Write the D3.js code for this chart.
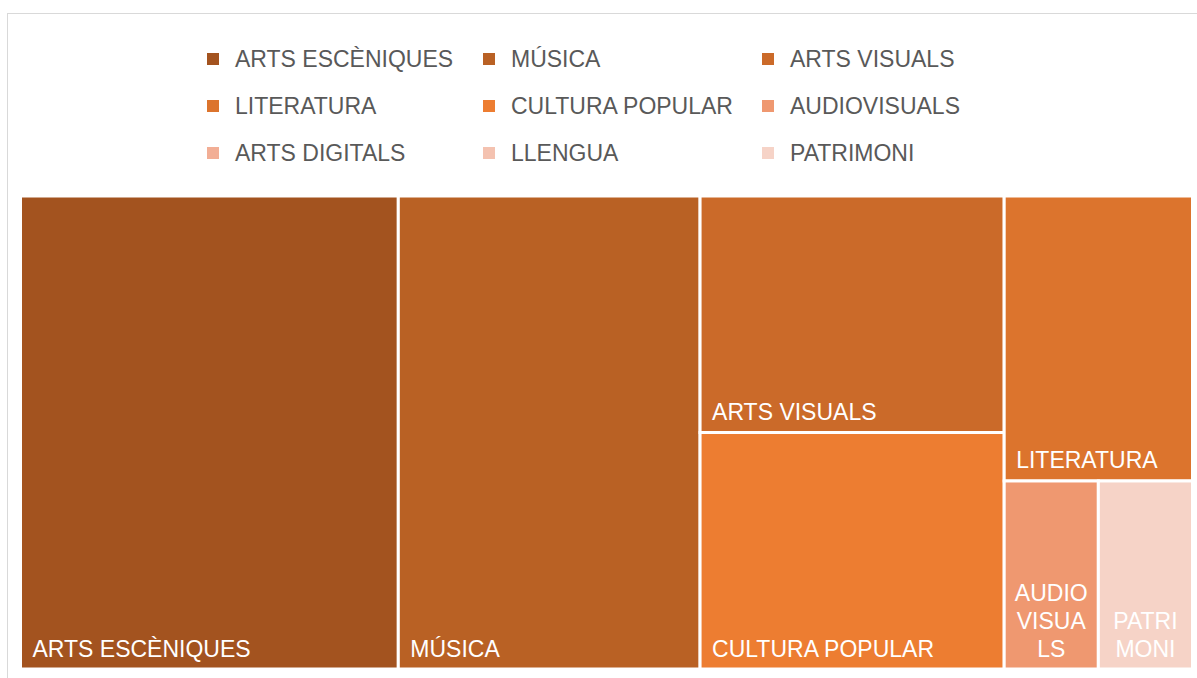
<!DOCTYPE html>
<html lang="ca">
<head>
	<meta charset="UTF-8">
	<script src="https://cdn.jsdelivr.net/npm/d3@7"></script>
	<title>treemap</title>
	<style>
        body{ margin: 0; background: #fff; }
        svg{ display: block; font-family: "Liberation Sans", Arial, sans-serif; }
        .legend text{ fill: #595959; font-size: 23px; }
        .cells text{ fill: #fff; font-size: 23px; }
	</style>
</head>
<body>
<svg id="chart" width="1197" height="678"></svg>
<script>
	// data, in legend order
	const categories = ["ARTS ESCÈNIQUES", "MÚSICA", "ARTS VISUALS", "LITERATURA", "CULTURA POPULAR",
		"AUDIOVISUALS", "ARTS DIGITALS", "LLENGUA", "PATRIMONI"];
	const values = [32.3, 25.8, 13.0, 9.7, 13.0, 3.2, 0, 0, 3.2];
	const colors = ["#A3531F", "#B96124", "#CB6A29", "#DC742D", "#ED7D31",
		"#EF9870", "#F2AE95", "#F4C2B0", "#F6D3C7"];

	const svg = d3.select("#chart");
	const color = d3.scaleOrdinal().domain(categories).range(colors);

	// outer frame
	svg.append("rect")
		.attr("x", 7.5).attr("y", 13.5)
		.attr("width", 1200).attr("height", 700)
		.attr("fill", "none")
		.attr("stroke", "#d9d9d9");

	// legend, 3 columns
	const colX = [207, 483, 762];
	const rowY = [67, 114, 161];
	const legend = svg.append("g").attr("class", "legend")
		.selectAll("g")
		.data(categories)
		.join("g")
		.attr("transform", (d, i) => "translate(" + colX[i % 3] + "," + rowY[Math.floor(i / 3)] + ")");
	legend.append("rect")
		.attr("x", 0).attr("y", -14)
		.attr("width", 12).attr("height", 12)
		.attr("fill", d => color(d));
	legend.append("text")
		.attr("x", 28)
		.text(d => d);

	// treemap
	const root = d3.hierarchy({children: categories.map((c, i) => ({name: c, value: values[i]}))})
		.sum(d => d.value || 0)
		.sort((a, b) => b.value - a.value);

	d3.treemap()
		.tile(d3.treemapSquarify.ratio(1))
		.size([1172, 473])(root);

	const leaves = root.leaves().filter(d => d.value > 0);

	const cell = svg.append("g").attr("class", "cells")
		.attr("transform", "translate(20.5,196)")
		.selectAll("g")
		.data(leaves)
		.join("g");

	cell.append("rect")
		.attr("x", d => d.x0).attr("y", d => d.y0)
		.attr("width", d => d.x1 - d.x0)
		.attr("height", d => d.y1 - d.y0)
		.attr("fill", d => color(d.data.name))
		.attr("stroke", "#fff")
		.attr("stroke-width", 3);

	cell.each(function (d) {
		const g = d3.select(this);
		const w = d.x1 - d.x0;
		const avail = w - 18;
		const t = g.append("text").attr("x", d.x0 + 12).attr("y", d.y1 - 12.5).text(d.data.name);
		if (t.node().getComputedTextLength() <= avail) return;
		// too wide: break by characters and center
		t.remove();
		const lines = [];
		let cur = "";
		const probe = g.append("text");
		for (const ch of d.data.name) {
			probe.text(cur + ch);
			if (cur && probe.node().getComputedTextLength() > avail) {
				lines.push(cur);
				cur = ch;
			} else cur += ch;
		}
		lines.push(cur);
		probe.remove();
		lines.forEach((ln, k) => {
			g.append("text")
				.attr("x", (d.x0 + d.x1) / 2)
				.attr("y", d.y1 - 12.5 - (lines.length - 1 - k) * 28)
				.attr("text-anchor", "middle")
				.text(ln);
		});
	});
</script>
</body>
</html>
